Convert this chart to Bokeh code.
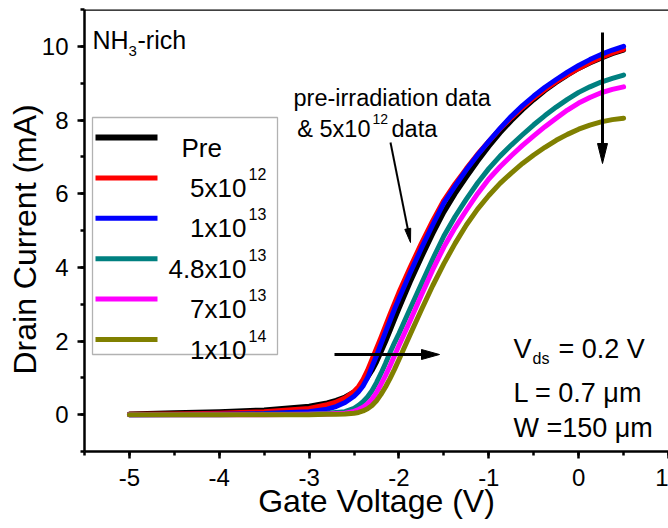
import math
from bokeh.plotting import figure
from bokeh.models import (Range1d, SingleIntervalTicker, Label, BoxAnnotation,
                          Span, CustomJSTickFormatter)
from bokeh.embed import file_html
from bokeh.resources import INLINE

# ---------------- data ----------------
vg = [-5.0, -4.5, -4.0, -3.5, -3.0, -2.8, -2.7, -2.6, -2.5, -2.45, -2.4, -2.35,
      -2.3, -2.25, -2.2, -2.15, -2.1, -2.05, -2.0, -1.875, -1.75, -1.625, -1.5,
      -1.375, -1.25, -1.125, -1.0, -0.875, -0.75, -0.625, -0.5, -0.375, -0.25,
      -0.125, 0.0, 0.125, 0.25, 0.375, 0.5]

i_pre = [0.02, 0.05, 0.08, 0.13, 0.23, 0.32, 0.39, 0.48, 0.62, 0.72, 0.85, 1.01,
         1.2, 1.43, 1.7, 1.98, 2.28, 2.58, 2.88, 3.6, 4.27, 4.91, 5.5,
         6.0, 6.45, 6.88, 7.28, 7.65, 7.98, 8.28, 8.55, 8.8, 9.02,
         9.22, 9.4, 9.55, 9.68, 9.8, 9.9]
i_5e12 = [0.01, 0.02, 0.04, 0.08, 0.17, 0.27, 0.34, 0.45, 0.63, 0.76, 0.95, 1.2,
          1.5, 1.8, 2.1, 2.41, 2.72, 3.02, 3.32, 4.0, 4.65, 5.26, 5.82,
          6.27, 6.68, 7.07, 7.42, 7.76, 8.06, 8.34, 8.6, 8.83, 9.04,
          9.23, 9.4, 9.56, 9.7, 9.82, 9.92]
i_1e13 = [0.0, 0.005, 0.01, 0.03, 0.08, 0.15, 0.22, 0.33, 0.5, 0.62, 0.78, 1.0,
          1.3, 1.6, 1.92, 2.24, 2.55, 2.86, 3.15, 3.85, 4.52, 5.15, 5.75,
          6.21, 6.65, 7.05, 7.42, 7.77, 8.1, 8.39, 8.65, 8.89, 9.1,
          9.3, 9.48, 9.64, 9.78, 9.9, 10.0]
i_48e13 = [0.0, 0.0, 0.0, 0.01, 0.02, 0.04, 0.06, 0.08, 0.17, 0.25, 0.35, 0.48,
           0.65, 0.87, 1.12, 1.39, 1.68, 1.95, 2.2, 2.88, 3.55, 4.22, 4.85,
           5.38, 5.85, 6.29, 6.68, 7.02, 7.32, 7.6, 7.87, 8.12, 8.35,
           8.56, 8.75, 8.9, 9.03, 9.13, 9.22]
i_7e13 = [0.0, 0.0, 0.0, 0.0, 0.01, 0.02, 0.03, 0.04, 0.09, 0.14, 0.2, 0.29,
          0.42, 0.6, 0.82, 1.06, 1.32, 1.6, 1.88, 2.55, 3.25, 3.93, 4.55,
          5.08, 5.55, 6.0, 6.4, 6.73, 7.03, 7.31, 7.57, 7.82, 8.05,
          8.27, 8.46, 8.61, 8.74, 8.83, 8.9]
i_1e14 = [0.0, 0.0, 0.0, 0.0, 0.0, 0.01, 0.01, 0.02, 0.04, 0.06, 0.1, 0.16,
          0.25, 0.38, 0.55, 0.75, 0.98, 1.23, 1.5, 2.18, 2.85, 3.5, 4.1,
          4.65, 5.15, 5.58, 5.95, 6.28, 6.56, 6.82, 7.05, 7.26, 7.45,
          7.61, 7.75, 7.86, 7.95, 8.01, 8.05]

series = [i_pre, i_5e12, i_1e13, i_48e13, i_7e13, i_1e14]
legend_main = ["Pre", "5x10", "1x10", "4.8x10", "7x10", "1x10"]
legend_exp = ["", "12", "13", "13", "13", "14"]
colors = ["#000000", "#FF0000", "#0000FF", "#008080", "#FF00FF", "#808000"]

x_ticks_interval = 1
y_ticks_interval = 2

# ---------------- layout constants ----------------
W, H = 668, 528
FL, FR, FT, FB = 84, 668, 9, 451
X0, X1, Y0, Y1 = -5.5, 1.0, -1.0, 11.0
FONT = "Liberation Sans"


def dx(px):
    return X0 + (px - FL) * (X1 - X0) / (FR - FL)


def dy(py):
    return Y1 - (py - FT) * (Y1 - Y0) / (FB - FT)


p = figure(width=W, height=H, x_range=Range1d(X0, X1), y_range=Range1d(Y0, Y1),
           output_backend="svg", toolbar_location=None,
           min_border_left=FL, min_border_right=0, min_border_top=FT,
           min_border_bottom=H - FB)
p.outline_line_color = None
p.grid.visible = False
p.background_fill_color = "white"

fmt = "return tick.toFixed(0);"
p.xaxis.ticker = SingleIntervalTicker(interval=x_ticks_interval, num_minor_ticks=2)
p.yaxis.ticker = SingleIntervalTicker(interval=y_ticks_interval, num_minor_ticks=2)
p.xaxis.formatter = CustomJSTickFormatter(code=fmt)
p.yaxis.formatter = CustomJSTickFormatter(code=fmt)
p.xaxis.axis_label = "Gate Voltage (V)"
p.yaxis.axis_label = "Drain Current (mA)\u00a0\u00a0"

for ax in [p.xaxis[0], p.yaxis[0]]:
    ax.axis_line_width = 2.5
    ax.axis_line_color = "black"
    ax.major_tick_line_width = 2.5
    ax.minor_tick_line_width = 2.5
    ax.major_tick_line_color = "black"
    ax.minor_tick_line_color = "black"
    ax.major_tick_out = 7
    ax.major_tick_in = 0
    ax.minor_tick_out = 4
    ax.minor_tick_in = 0
    ax.major_label_text_font = FONT
    ax.major_label_text_font_size = "24px"
    ax.major_label_text_color = "black"
    ax.axis_label_text_font = FONT
    ax.axis_label_text_font_size = "32px"
    ax.axis_label_text_font_style = "normal"
    ax.axis_label_text_color = "black"

p.xaxis.major_label_standoff = 10
p.xaxis.axis_label_standoff = -6
p.yaxis.major_label_standoff = 9
p.yaxis.axis_label_standoff = -4

p.add_layout(Span(location=Y1, dimension="width", line_color="black", line_width=2.5))

# ---------------- curves ----------------
for ys, c in zip(series, colors):
    p.line(vg, ys, line_color=c, line_width=5, line_join="round", line_cap="round")

# ---------------- legend (drawn by hand) ----------------
p.add_layout(BoxAnnotation(left=dx(92), right=dx(277), top=dy(117), bottom=dy(354),
                           fill_alpha=0, line_color="black", line_width=1.3))
for k, c in enumerate(colors):
    yy = dy(137 + 40.4 * k)
    p.segment(x0=dx(95), y0=yy, x1=dx(157), y1=yy, line_color=c,
              line_width=6 if k == 0 else 5)


def txt(s, px, py, size, align="left"):
    p.add_layout(Label(x=dx(px), y=dy(py), text=s, text_font=FONT,
                       text_font_size=f"{size}px", text_align=align,
                       text_baseline="alphabetic", text_color="black"))


txt(legend_main[0], 181, 147, 26)
for k in range(1, 6):
    base = 147 + 40.4 * k
    txt(legend_main[k], 246, base, 26, "right")
    txt(legend_exp[k], 248, base - 14, 16)

# NH3-rich
txt("NH", 92, 39, 25)
txt("3", 128, 50, 15)
txt("-rich", 137, 39, 25)

# annotation text
txt("pre-irradiation data", 293, 97, 23.5)
txt("& 5x10", 370, 128, 23.5, "right")
txt("12", 372, 118, 14)
txt("data", 391, 128, 23.5)

txt("V", 513, 348, 27)
txt("ds", 532, 358, 16)
txt("= 0.2 V", 558, 348, 27)
txt("L = 0.7 \u03bcm", 513, 392, 27)
txt("W =150 \u03bcm", 513, 427, 27)


def arrow(x0, y0, x1, y1, lw, hl, hw):
    L = math.hypot(x1 - x0, y1 - y0)
    ux, uy = (x1 - x0) / L, (y1 - y0) / L
    bx, by = x1 - ux * hl, y1 - uy * hl
    nx, ny = -uy, ux
    p.segment(x0=dx(x0), y0=dy(y0), x1=dx(bx + ux * 2), y1=dy(by + uy * 2),
              line_width=lw, line_color="black")
    hx = [x1, bx + nx * hw / 2, bx - nx * hw / 2]
    hy = [y1, by + ny * hw / 2, by - ny * hw / 2]
    p.patch([dx(v) for v in hx], [dy(v) for v in hy], fill_color="black",
            line_color="black", line_width=1)


arrow(390, 142, 410, 242, 2, 14, 6)
arrow(602, 32, 602, 163, 3, 20, 10)
arrow(334, 354, 439, 354, 3, 18, 10)

open("out.html", "w").write(file_html(p, INLINE))
